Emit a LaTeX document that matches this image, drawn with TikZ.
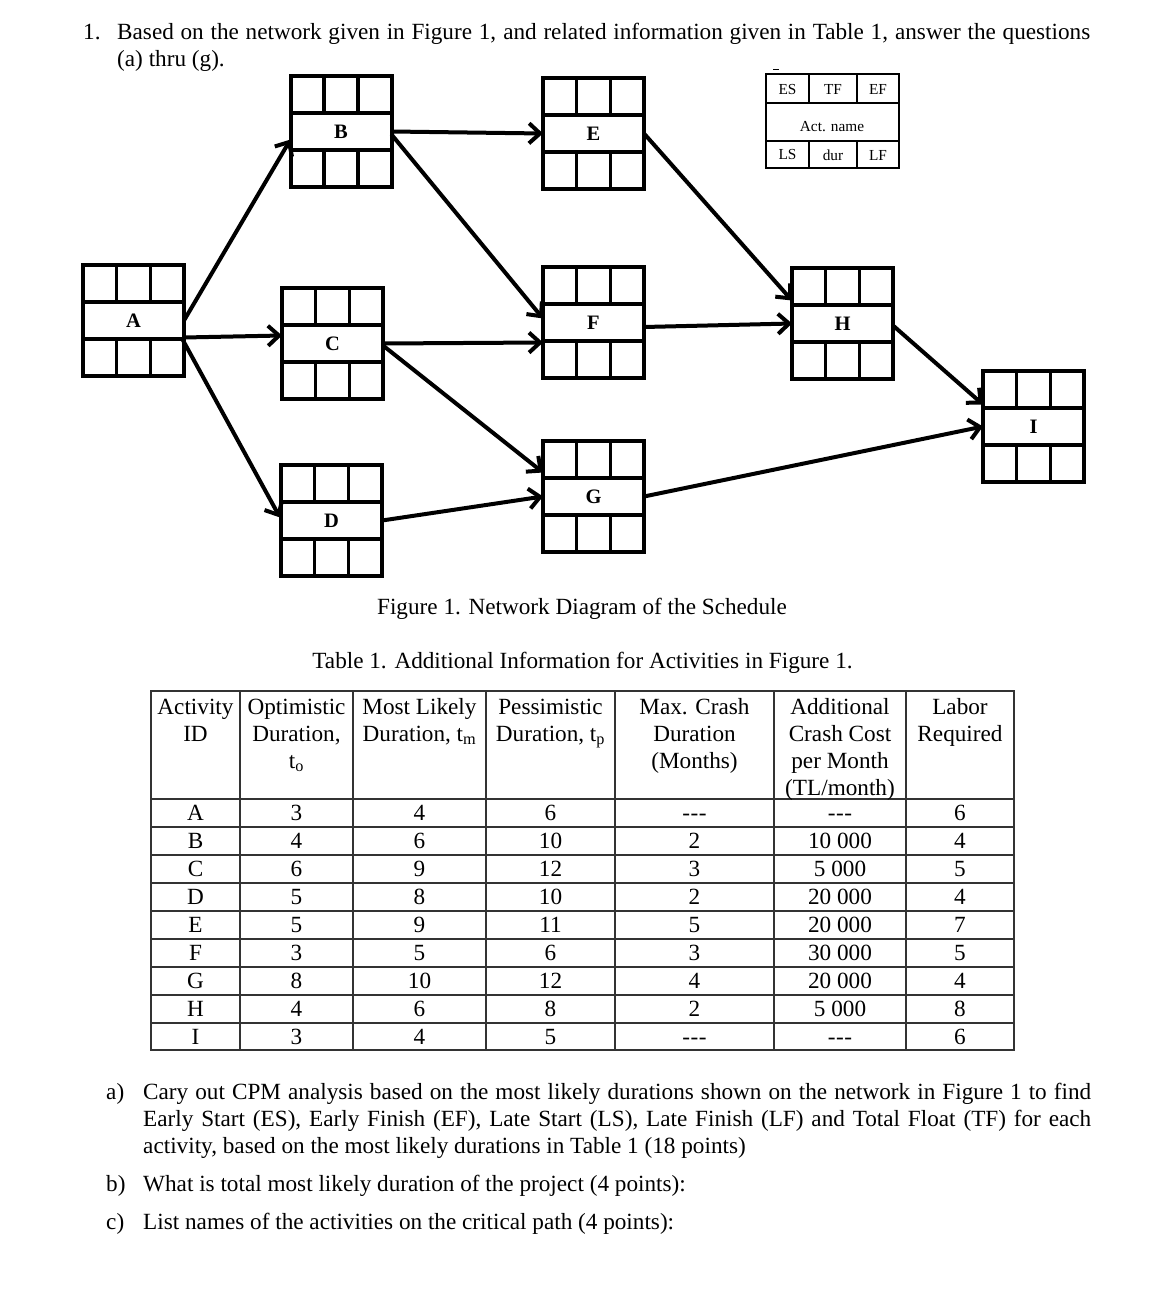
\documentclass[tikz,border=0pt]{standalone}
\usepackage{fontspec}
\setmainfont{Liberation Serif}
\usetikzlibrary{arrows.meta,calc}
\newcommand\tdash{-\kern0.6pt-\kern0.6pt-}
\newcommand\bodyfont{\fontsize{23.2}{27}\selectfont}
\newcommand\actcells[1]{%
  \foreach \dx in {33.67,67.33} {
    \draw[cellline] ($(#1.north west)+(\dx,0)$) -- ($(#1.north west)+(\dx,37)$);
    \draw[cellline] ($(#1.south west)+(\dx,0)$) -- ($(#1.south west)+(\dx,-37)$);
  }
  \draw[cellline] ($(#1.north west)+(0,37)$) -- ($(#1.north east)+(0,37)$);
  \draw[cellline] ($(#1.south west)+(0,-37)$) -- ($(#1.south east)+(0,-37)$);
}
\begin{document}
\begin{tikzpicture}[x=1pt,y=-1pt,
  actbox/.style={draw, line width=4pt, minimum width=101pt, minimum height=111pt,
    inner sep=0pt, outer sep=0pt, font=\fontsize{20.5}{24}\selectfont\bfseries},
  cellline/.style={line width=3.5pt},
  conn/.style={line width=4pt, -{Straight Barb[length=11pt,width=20pt]}},
  legline/.style={line width=1.3pt},
  legtext/.style={inner sep=0pt, font=\fontsize{15.3}{18}\selectfont},
  tline/.style={line width=1.2pt, black!80},
  txt/.style={inner sep=0pt, anchor=base west, font=\bodyfont},
  tcell/.style={inner sep=0pt, anchor=base, font=\bodyfont},
  thead/.style={inner sep=0pt, anchor=base, font=\bodyfont}]
\useasboundingbox (0,0) rectangle (1157,1311);
\fill[white] (0,0) rectangle (1157,1311);

% question text
\node[txt] (num) at (83,39.5) {1.};
\node[txt] (q1) at (117,39.5) {\makebox[973pt][s]{Based on the network given in Figure 1, and related information given in Table 1, answer the questions}};
\node[txt] (q2) at (117,66.5) {(a) thru (g).};

% activity boxes
\node[actbox] (A) at (133.5,320.5) {A\hspace{22pt}};
\node[actbox] (B) at (341,131.5) {B};
\node[actbox] (C) at (332.5,343.5) {C};
\node[actbox] (D) at (331.5,520.5) {D};
\node[actbox] (E) at (593.5,133.5) {E};
\node[actbox] (F) at (593.5,322.5) {F};
\node[actbox] (G) at (593.5,496.5) {G};
\node[actbox] (H) at (842.5,323.5) {H};
\node[actbox] (I) at (1033.5,426.5) {I};
\foreach \n in {A,B,C,D,E,F,G,H,I} {\actcells{\n}}

% connectors
\draw[conn] (A.east) -- ($(B.west)+(0,8)$);
\draw[conn] ($(A.east)+(0,17)$) -- ($(C.west)+(0,-8)$);
\draw[conn] ($(A.east)+(-2,18)$) -- ($(D.west)+(-1,-3)$);
\draw[conn] (B.east) -- (E.west);
\draw[conn] ($(B.east)+(0,3)$) -- ($(F.west)+(0,-4)$);
\draw[conn] (C.east) -- ($(F.west)+(0,20)$);
\draw[conn] ($(C.east)+(0,2)$) -- ($(G.west)+(0,-24)$);
\draw[conn] (D.east) -- (G.west);
\draw[conn] (E.east) -- ($(H.west)+(0,-23)$);
\draw[conn] ($(F.east)+(0,4.5)$) -- (H.west);
\draw[conn] ($(H.east)+(0,2)$) -- ($(I.west)+(0,-22)$);
\draw[conn] (G.east) -- (I.west);

% legend
\node[draw, line width=1.3pt, minimum width=133pt, minimum height=94pt, inner sep=0pt, outer sep=0pt] (legend) at (832.5,121) {};
\draw[legline] ($(legend.north west)+(0,29)$) -- ($(legend.north east)+(0,29)$);
\draw[legline] ($(legend.north west)+(0,67)$) -- ($(legend.north east)+(0,67)$);
\draw[legline] ($(legend.north west)+(43,0)$) -- ($(legend.north west)+(43,29)$);
\draw[legline] ($(legend.north west)+(91,0)$) -- ($(legend.north west)+(91,29)$);
\draw[legline] ($(legend.south west)+(43,0)$) -- ($(legend.south west)+(43,-27)$);
\draw[legline] ($(legend.south west)+(91,0)$) -- ($(legend.south west)+(91,-27)$);
\node[legtext] (les) at (787.5,89.5) {ES};
\node[legtext] (ltf) at (833,89.5) {TF};
\node[legtext] (lef) at (878,89.5) {EF};
\node[legtext] (lname) at (832,127) {Act. name};
\node[legtext] (lls) at (787.5,155) {LS};
\node[legtext] (ldur) at (833,155) {dur};
\node[legtext] (llf) at (878,155) {LF};
\draw[line width=1.2pt] (773,69.5) -- (779,69.5);

% captions
\node[tcell] (figcap) at (582,614) {Figure 1. Network Diagram of the Schedule};
\node[tcell] (tabcap) at (582.5,668) {Table 1. Additional Information for Activities in Figure 1.};

% table grid
\draw[tline] (151,691) rectangle (1014,1050);
\foreach \xx in {240,353,486,615,774,906} {\draw[tline] (\xx,691) -- (\xx,1050);}
\foreach \yy in {799,827,855,883,911,939,967,995,1023} {\draw[tline] (151,\yy) -- (1014,\yy);}

% table header
\node[thead] (h1) at (195.5,714) {\parbox[t]{86pt}{\centering Activity\\ID}};
\node[thead] (h2) at (296.5,714) {\parbox[t]{112pt}{\centering Optimistic\\Duration,\\t\textsubscript{o}}};
\node[thead] (h3) at (419.5,714) {\parbox[t]{132pt}{\centering Most Likely\\Duration, t\textsubscript{m}}};
\node[thead] (h4) at (550.5,714) {\parbox[t]{128pt}{\centering Pessimistic\\Duration, t\textsubscript{p}}};
\node[thead] (h5) at (694.5,714) {\parbox[t]{158pt}{\centering Max. Crash\\Duration\\(Months)}};
\node[thead] (h6) at (840,714) {\parbox[t]{131pt}{\centering Additional\\Crash Cost\\per Month\\(TL/month)}};
\node[thead] (h7) at (960,714) {\parbox[t]{107pt}{\centering Labor\\Required}};

% table body
\foreach \a/\b/\c/\d/\e/\f/\g [count=\k from 0] in {
  A/3/4/6/\tdash/\tdash/6,
  B/4/6/10/2/10 000/4,
  C/6/9/12/3/5 000/5,
  D/5/8/10/2/20 000/4,
  E/5/9/11/5/20 000/7,
  F/3/5/6/3/30 000/5,
  G/8/10/12/4/20 000/4,
  H/4/6/8/2/5 000/8,
  I/3/4/5/\tdash/\tdash/6} {
  \node[tcell] (r\k-1) at (195.5,{820.5+28*\k}) {\a};
  \node[tcell] (r\k-2) at (296.5,{820.5+28*\k}) {\b};
  \node[tcell] (r\k-3) at (419.5,{820.5+28*\k}) {\c};
  \node[tcell] (r\k-4) at (550.5,{820.5+28*\k}) {\d};
  \node[tcell] (r\k-5) at (694.5,{820.5+28*\k}) {\e};
  \node[tcell] (r\k-6) at (840,{820.5+28*\k}) {\f};
  \node[tcell] (r\k-7) at (960,{820.5+28*\k}) {\g};
}

% questions a-c
\node[txt] (la) at (106,1099) {a)};
\node[txt] (a1) at (143,1099) {\makebox[948pt][s]{Cary out CPM analysis based on the most likely durations shown on the network in Figure 1 to find}};
\node[txt] (a2) at (143,1126) {\makebox[948pt][s]{Early Start (ES), Early Finish (EF), Late Start (LS), Late Finish (LF) and Total Float (TF) for each}};
\node[txt] (a3) at (143,1153) {activity, based on the most likely durations in Table 1 (18 points)};
\node[txt] (lb) at (106,1191) {b)};
\node[txt] (b1) at (143,1191) {What is total most likely duration of the project (4 points):};
\node[txt] (lc) at (106,1229) {c)};
\node[txt] (c1) at (143,1229) {List names of the activities on the critical path (4 points):};
\end{tikzpicture}
\end{document}
